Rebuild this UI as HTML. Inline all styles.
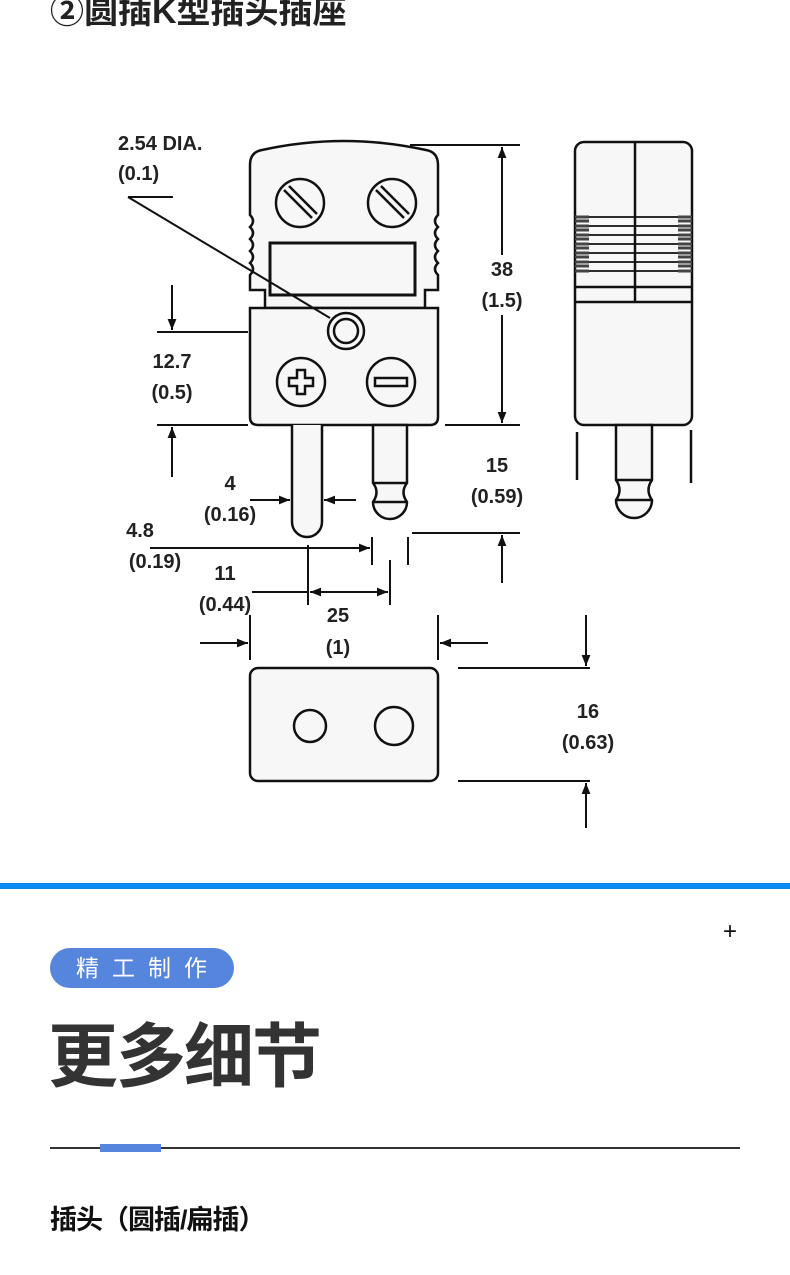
<!DOCTYPE html>
<html><head><meta charset="utf-8"><style>
body{margin:0;width:790px;height:1275px;background:#fff;position:relative;overflow:hidden;font-family:"Liberation Sans","Noto Sans CJK SC",sans-serif}
.t{position:absolute;left:50px;top:-16px;font-size:34px;font-weight:bold;color:#222;white-space:nowrap}
</style></head><body>
<div class="t">②圆插K型插头插座</div>
<svg width="790" height="870" style="position:absolute;left:0;top:0" font-family="Liberation Sans, sans-serif" font-weight="bold" font-size="20" fill="#222">
<defs><marker id="a" viewBox="0 0 10 10" refX="10" refY="5" markerWidth="13" markerHeight="11" orient="auto-start-reverse" markerUnits="userSpaceOnUse"><path d="M0,1L10,5L0,9z" fill="#111"/></marker></defs>
<g stroke="#111" stroke-width="2.5" fill="#f7f7f7">
<path d="M250,165 Q250,152 262,150 Q344,132 426,150 Q438,152 438,165 L438,215 q-6,6 0,12 q-6,6 0,12 q-6,6 0,12 q-6,6 0,12 q-6,6 0,12 L438,290 L425,290 L425,308 L265,308 L265,290 L250,290 L250,275 q6,-6 0,-12 q6,-6 0,-12 q6,-6 0,-12 q6,-6 0,-12 q6,-6 0,-12 Z"/>
<circle cx="300" cy="203" r="24"/><circle cx="392" cy="203" r="24"/>
<path d="M284,190 L312,218 M289,186 L317,214 M376,190 L404,218 M381,186 L409,214" fill="none"/>
<rect x="270" y="243" width="145" height="52" stroke-width="3"/>
<path d="M250,308 L438,308 L438,417 Q438,425 430,425 L258,425 Q250,425 250,417 Z"/>
<circle cx="346" cy="331" r="18"/><circle cx="346" cy="331" r="12"/>
<circle cx="301" cy="382" r="24"/><circle cx="391" cy="382" r="24"/>
<path d="M297,370 h8 v8 h8 v8 h-8 v8 h-8 v-8 h-8 v-8 h8 z"/>
<rect x="375" y="378" width="32" height="8"/>
<path d="M292,425 L292,522 A15,15 0 0 0 322,522 L322,425"/>
<path d="M373,425 L373,483 Q380,492 373,502 A17,17 0 0 0 407,502 Q400,492 407,483 L407,425 Z"/>
<path d="M373,483 H407 M373,502 H407" fill="none"/>
<rect x="575" y="142" width="117" height="283" rx="9"/>
<path d="M635,142 V302 M575,287 H692 M575,302 H692" fill="none"/>
<path d="M575,217 H692 M575,226 H692 M575,235 H692 M575,244 H692 M575,253 H692 M575,262 H692 M575,271 H692" fill="none" stroke-width="1.8"/>
<path d="M575,217 h14 M575,221 h14 M575,226 h14 M575,230 h14 M575,235 h14 M575,239 h14 M575,244 h14 M575,248 h14 M575,253 h14 M575,257 h14 M575,262 h14 M575,266 h14 M575,271 h14 M678,217 h14 M678,221 h14 M678,226 h14 M678,230 h14 M678,235 h14 M678,239 h14 M678,244 h14 M678,248 h14 M678,253 h14 M678,257 h14 M678,262 h14 M678,266 h14 M678,271 h14" stroke-width="3" stroke="#444"/>
<path d="M616,425 L616,480 Q623,490 616,500 A18,18 0 0 0 652,500 Q645,490 652,480 L652,425 Z"/>
<path d="M616,480 H652 M616,500 H652 M577,432 V480 M691,430 V483" fill="none"/>
<rect x="250" y="668" width="188" height="113" rx="8"/>
<circle cx="310" cy="726" r="16"/><circle cx="394" cy="726" r="19"/>
</g>
<g stroke="#111" stroke-width="2" fill="none">
<path d="M128,197 H173 M128,197 L330,318"/>
<path d="M410,145 H520 M445,425 H520"/>
<path d="M502,255 V147" marker-end="url(#a)"/><path d="M502,315 V423" marker-end="url(#a)"/>
<path d="M157,332 H248 M157,425 H248"/>
<path d="M172,285 V330" marker-end="url(#a)"/><path d="M172,477 V427" marker-end="url(#a)"/>
<path d="M250,500 H290" marker-end="url(#a)"/><path d="M356,500 H324" marker-end="url(#a)"/>
<path d="M412,533 H520"/><path d="M502,583 V535" marker-end="url(#a)"/>
<path d="M150,548 H370" marker-end="url(#a)"/>
<path d="M372,537 V565 M408,537 V565"/>
<path d="M308,545 V605 M390,560 V605"/>
<path d="M252,592 H308"/><path d="M310,592 H388" marker-start="url(#a)" marker-end="url(#a)"/>
<path d="M250,615 V660 M438,615 V660"/>
<path d="M200,643 H248" marker-end="url(#a)"/><path d="M488,643 H440" marker-end="url(#a)"/>
<path d="M458,668 H590 M458,781 H590"/>
<path d="M586,615 V666" marker-end="url(#a)"/><path d="M586,828 V783" marker-end="url(#a)"/>
</g>
<text x="118" y="150">2.54 DIA.</text><text x="118" y="180">(0.1)</text>
<g text-anchor="middle">
<text x="502" y="276">38</text><text x="502" y="307">(1.5)</text>
<text x="172" y="368">12.7</text><text x="172" y="399">(0.5)</text>
<text x="230" y="490">4</text><text x="230" y="521">(0.16)</text>
<text x="497" y="472">15</text><text x="497" y="503">(0.59)</text>
<text x="140" y="537">4.8</text><text x="155" y="568">(0.19)</text>
<text x="225" y="580">11</text><text x="225" y="611">(0.44)</text>
<text x="338" y="622">25</text><text x="338" y="654">(1)</text>
<text x="588" y="718">16</text><text x="588" y="749">(0.63)</text>
</g>
</svg>
<div style="position:absolute;left:0;top:883px;width:790px;height:6px;background:#0a8cf2"></div>
<div style="position:absolute;left:723px;top:918px;font-size:24px;color:#111">+</div>
<div style="position:absolute;left:50px;top:948px;width:184px;height:40px;border-radius:20px;background:#5585dc;color:#fff;font-size:23px;line-height:40px;text-align:center;letter-spacing:13px;text-indent:12px">精工制作</div>
<div style="position:absolute;left:48px;top:1012px;font-size:70px;font-weight:bold;color:#333;line-height:90px;letter-spacing:-2px">更多细节</div>
<div style="position:absolute;left:50px;top:1147px;width:690px;height:2px;background:#333"></div>
<div style="position:absolute;left:100px;top:1144px;width:61px;height:8px;background:#5585dc"></div>
<div style="position:absolute;left:50px;top:1200px;font-size:27px;font-weight:bold;color:#111;line-height:40px;letter-spacing:-1px">插头（圆插/扁插）</div>
</body></html>
